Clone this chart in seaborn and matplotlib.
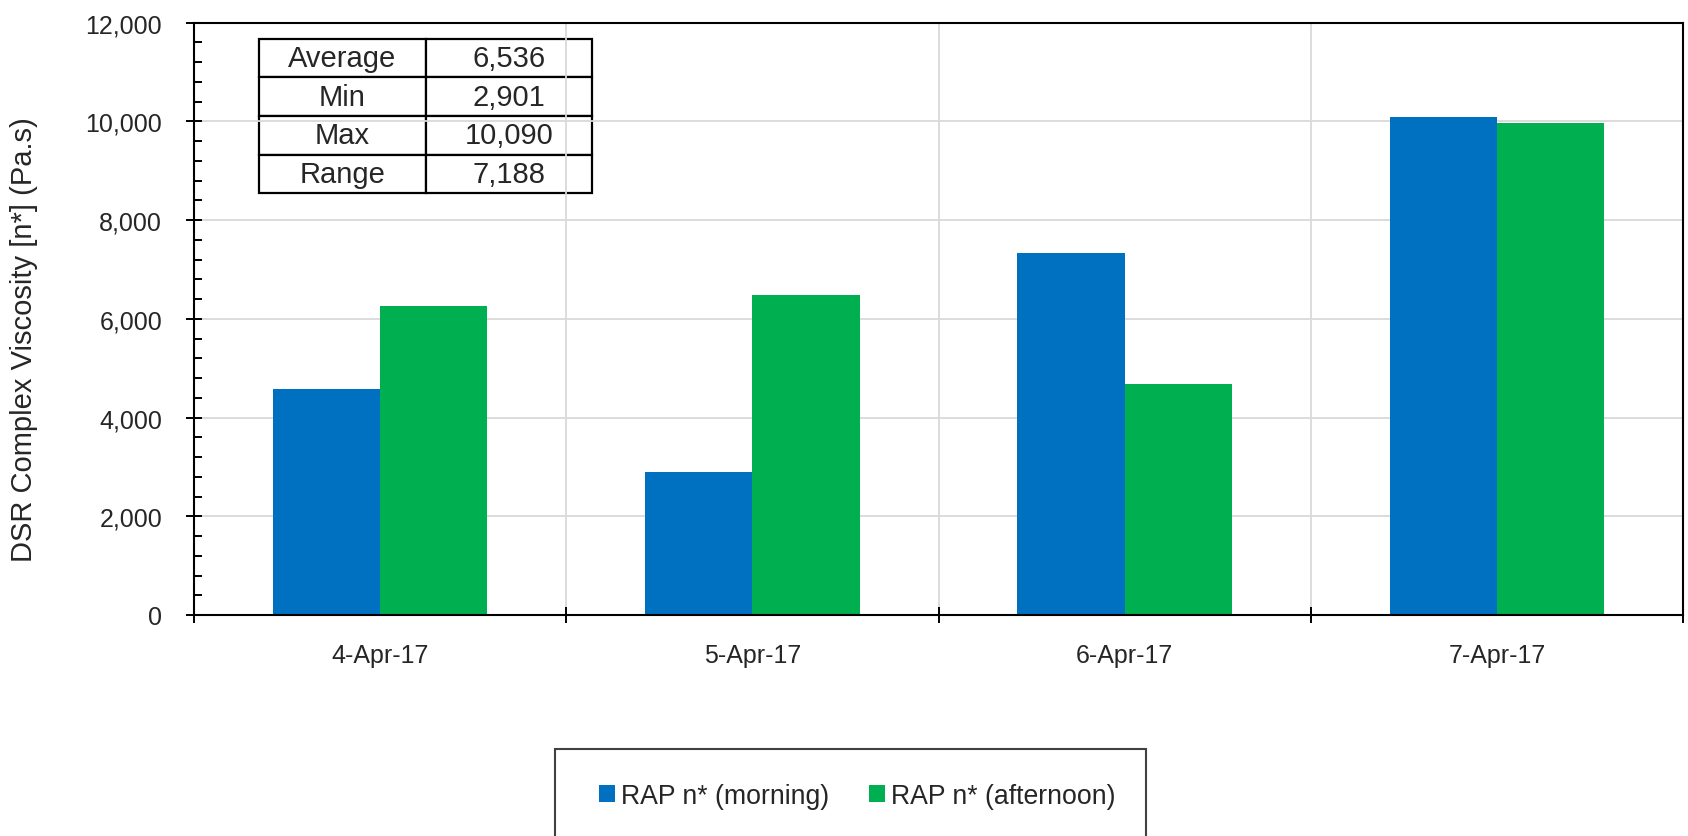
import matplotlib
matplotlib.use("Agg")
import matplotlib.pyplot as plt
from matplotlib import font_manager
from matplotlib.patches import Rectangle, Patch
from matplotlib.ticker import MultipleLocator, FixedLocator, NullFormatter
import seaborn as sns
import pandas as pd

# ---- data -------------------------------------------------------------
dates = ["4-Apr-17", "5-Apr-17", "6-Apr-17", "7-Apr-17"]
morning = [4570, 2901.4, 7330, 10089.6]
afternoon = [6270, 6480, 4670, 9977]
series_names = ["RAP n* (morning)", "RAP n* (afternoon)"]
series_colors = ["#0070C0", "#00B050"]
stat_labels = ["Average", "Min", "Max", "Range"]
y_ticks = [0, 2000, 4000, 6000, 8000, 10000, 12000]
y_label = "DSR Complex Viscosity [n*] (Pa.s)"

df = pd.DataFrame({
    "date": dates * 2,
    "series": [series_names[0]] * len(dates) + [series_names[1]] * len(dates),
    "value": morning + afternoon,
})

all_vals = morning + afternoon
stats = [sum(all_vals) / len(all_vals), min(all_vals), max(all_vals),
         max(all_vals) - min(all_vals)]
stat_values = [f"{v:,.0f}" for v in stats]

# ---- fonts ------------------------------------------------------------
sns.set_theme(style="white")
available = {f.name for f in font_manager.fontManager.ttflist}
base = "Liberation Sans" if "Liberation Sans" in available else "DejaVu Sans"
if "Liberation Sans Narrow" in available:
    narrow, tick_size, leg_size = "Liberation Sans Narrow", 21.5, 23
else:
    narrow, tick_size, leg_size = base, 18, 19.2
plt.rcParams["font.family"] = [base, "DejaVu Sans"]

# ---- figure -----------------------------------------------------------
fig = plt.figure(figsize=(16.88, 8.37), dpi=100)
ax = fig.add_axes([194 / 1688, 1 - 616 / 837, (1683 - 194) / 1688, (616 - 23.7) / 837])

sns.barplot(data=df, x="date", y="value", hue="series", palette=series_colors,
            width=0.576, saturation=1, errorbar=None, legend=False,
            linewidth=0, ax=ax)

ax.set_xlim(-0.5, len(dates) - 0.5)
ax.set_ylim(y_ticks[0], y_ticks[-1])
ax.set_axisbelow(True)

# y axis
ax.yaxis.set_major_locator(FixedLocator(y_ticks))
ax.yaxis.set_minor_locator(MultipleLocator(400))
ax.set_yticklabels([f"{t:,}" for t in y_ticks], fontfamily=narrow, fontsize=tick_size)
ax.tick_params(axis="y", which="major", direction="inout", length=12, width=1.4,
               color="black", pad=17, left=True)
ax.tick_params(axis="y", which="minor", direction="in", length=5.5, width=1.4,
               color="black", left=True)

# x axis: labels at category centres, tick marks at category boundaries
ax.xaxis.set_major_locator(FixedLocator(range(len(dates))))
ax.set_xticklabels(dates, fontfamily=narrow, fontsize=tick_size)
ax.xaxis.set_minor_locator(FixedLocator([i - 0.5 for i in range(len(dates) + 1)]))
ax.xaxis.set_minor_formatter(NullFormatter())
ax.tick_params(axis="x", which="major", length=0, pad=20.5)
ax.tick_params(axis="x", which="minor", direction="inout", length=12, width=1.4,
               color="black", bottom=True)

ax.grid(False)
ax.grid(True, which="major", axis="y", color="#D9D9D9", linewidth=1.3)
ax.grid(True, which="minor", axis="x", color="#D9D9D9", linewidth=1.3)

for side in ["left", "right", "top", "bottom"]:
    ax.spines[side].set_visible(True)
    ax.spines[side].set_color("black")
    ax.spines[side].set_linewidth(1.5)

ax.set_xlabel("")
ax.set_ylabel(y_label, fontsize=21, va="center")
ax.yaxis.set_label_coords(-0.1142, 0.466)

# summary table
tbl = ax.table(cellText=[[l, v] for l, v in zip(stat_labels, stat_values)],
               cellLoc="center", colWidths=[0.5, 0.5],
               bbox=[0.0437, 0.7122, 0.2236, 0.2605])
tbl.auto_set_font_size(False)
for cell in tbl.get_celld().values():
    cell.set_linewidth(1.6)
    cell.set_edgecolor("black")
    cell.set_facecolor("white")
    cell.get_text().set_fontsize(21)
    cell.get_text().set_fontfamily(base)

# legend
handles = [Patch(facecolor=c, edgecolor="none") for c in series_colors]
fig.legend(handles, series_names, loc="center", bbox_to_anchor=(857 / 1688, 1 - 797 / 837),
           ncol=2, frameon=False, handlelength=0.62, handleheight=0.62,
           handletextpad=0.2, columnspacing=1.5,
           prop={"family": narrow, "size": leg_size})
fig.add_artist(Rectangle((555 / 1688, -0.05), 591 / 1688, 0.05 + (837 - 750) / 837,
                         transform=fig.transFigure, fill=False, edgecolor="#404040",
                         linewidth=1.5, clip_on=False))

fig.savefig("out.png", dpi=100, facecolor="white")
